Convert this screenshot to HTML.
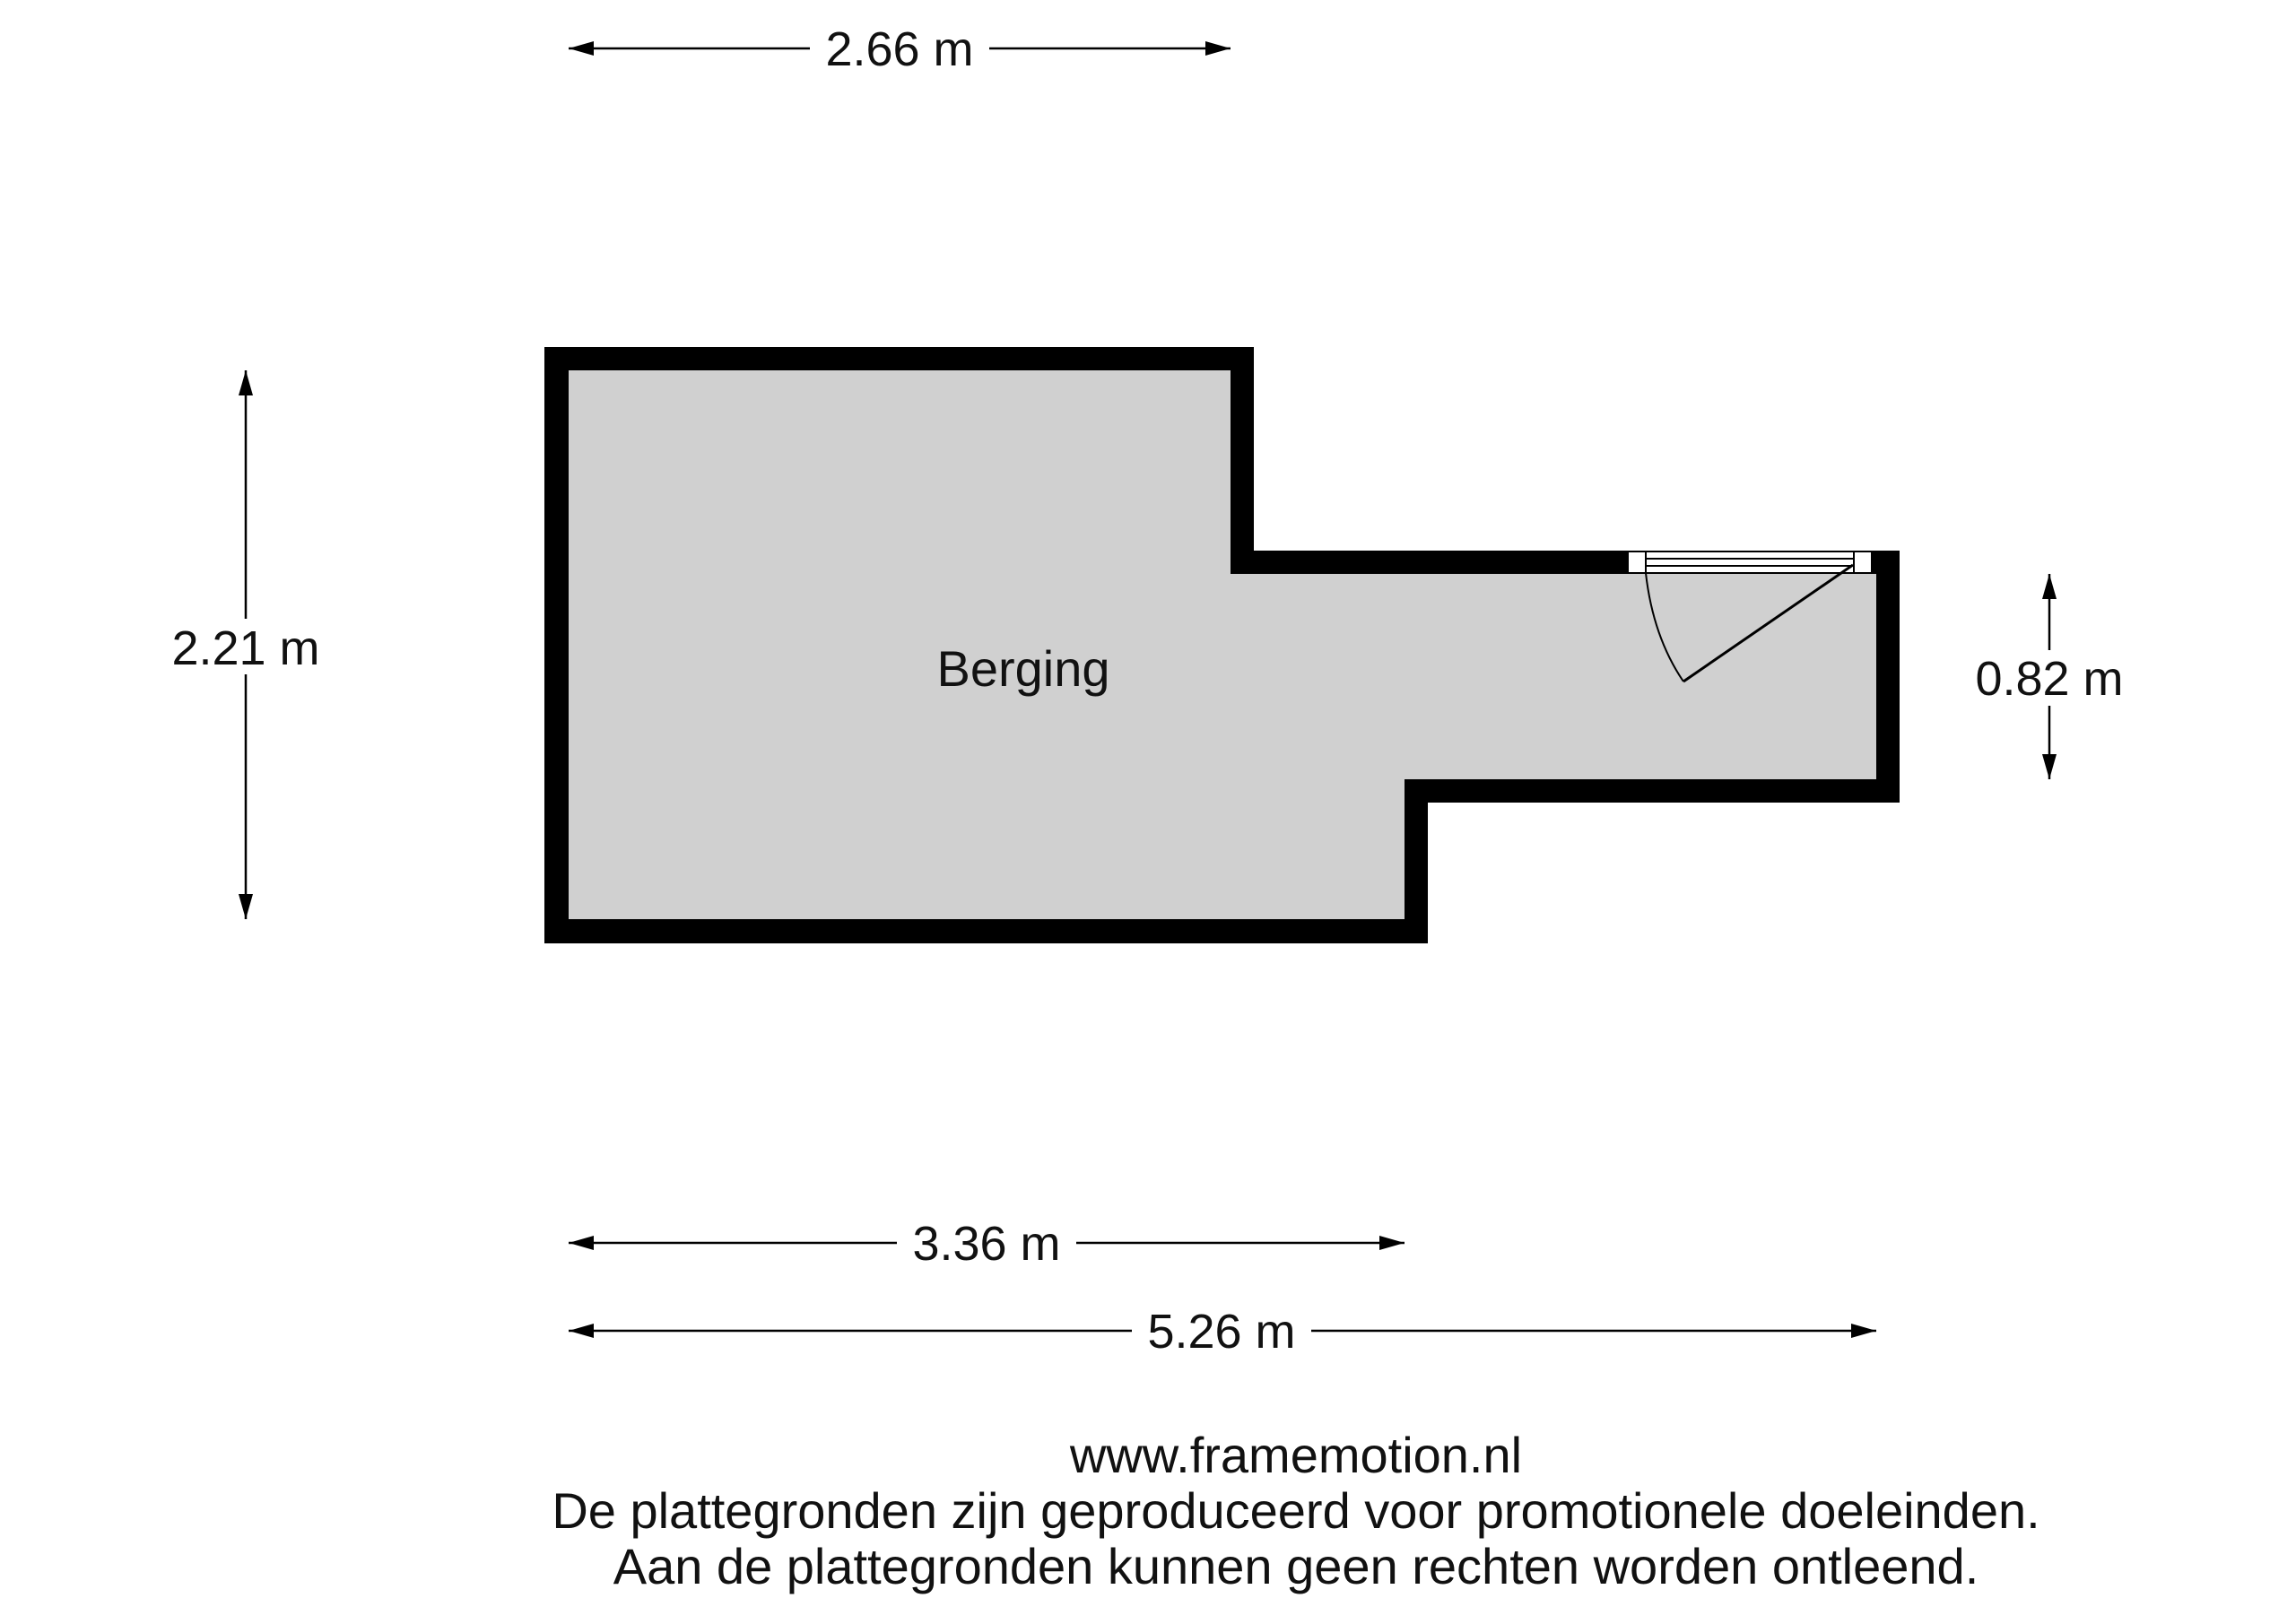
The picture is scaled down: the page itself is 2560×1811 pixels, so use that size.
<!DOCTYPE html>
<html><head><meta charset="utf-8"><style>
html,body{margin:0;padding:0;background:#fff}
svg{display:block}
text{font-family:"Liberation Sans",sans-serif;fill:#111}
</style></head><body>
<svg width="2560" height="1811" viewBox="0 0 2560 1811" xmlns="http://www.w3.org/2000/svg">
<defs>
<marker id="a" viewBox="0 0 28 16" refX="28" refY="8" markerWidth="28" markerHeight="16" markerUnits="userSpaceOnUse" orient="auto-start-reverse">
<path d="M0,0 L28,8 L0,16 Z" fill="#000"/></marker>
</defs>
<path d="M607,387 H1398 V614 H2118 V895 H1592 V1052 H607 Z" fill="#000"/>
<path d="M634,413 H1372 V640 H2092 V869 H1566 V1025 H634 Z" fill="#d0d0d0"/>
<rect x="1815" y="613" width="272" height="27" fill="#fff"/>
<rect x="1815" y="615" width="20" height="24" fill="#fff" stroke="#000" stroke-width="2"/>
<rect x="2067" y="615" width="20" height="24" fill="#fff" stroke="#000" stroke-width="2"/>
<line x1="1835" y1="615" x2="2067" y2="615" stroke="#000" stroke-width="2"/>
<line x1="1835" y1="623" x2="2067" y2="623" stroke="#000" stroke-width="2"/>
<line x1="1835" y1="631" x2="2067" y2="631" stroke="#000" stroke-width="2"/>
<line x1="1835" y1="639" x2="2067" y2="639" stroke="#000" stroke-width="2"/>
<rect x="1835" y="640" width="257" height="2" fill="#d0d0d0"/>
<line x1="2066" y1="630" x2="1877" y2="760" stroke="#000" stroke-width="3"/>
<path d="M1835,639 Q1843,710 1877,760" fill="none" stroke="#000" stroke-width="2"/>
<text x="1141" y="765" font-size="56" text-anchor="middle">Berging</text>
<g stroke="#000" stroke-width="2.5" fill="none">
<line x1="634" y1="54" x2="903" y2="54" marker-start="url(#a)"/>
<line x1="1103" y1="54" x2="1372" y2="54" marker-end="url(#a)"/>
<line x1="274" y1="413" x2="274" y2="690" marker-start="url(#a)"/>
<line x1="274" y1="752" x2="274" y2="1025" marker-end="url(#a)"/>
<line x1="2285" y1="640" x2="2285" y2="725" marker-start="url(#a)"/>
<line x1="2285" y1="787" x2="2285" y2="869" marker-end="url(#a)"/>
<line x1="634" y1="1386" x2="1000" y2="1386" marker-start="url(#a)"/>
<line x1="1200" y1="1386" x2="1566" y2="1386" marker-end="url(#a)"/>
<line x1="634" y1="1484" x2="1262" y2="1484" marker-start="url(#a)"/>
<line x1="1462" y1="1484" x2="2092" y2="1484" marker-end="url(#a)"/>
</g>
<g font-size="54" text-anchor="middle">
<text x="1003" y="73">2.66 m</text>
<text x="274" y="741">2.21 m</text>
<text x="2285" y="775">0.82 m</text>
<text x="1100" y="1405">3.36 m</text>
<text x="1362" y="1503">5.26 m</text>
</g>
<g font-size="56" text-anchor="middle">
<text x="1445" y="1642">www.framemotion.nl</text>
<text x="1445" y="1704">De plattegronden zijn geproduceerd voor promotionele doeleinden.</text>
<text x="1445" y="1766">Aan de plattegronden kunnen geen rechten worden ontleend.</text>
</g>
</svg>
</body></html>
